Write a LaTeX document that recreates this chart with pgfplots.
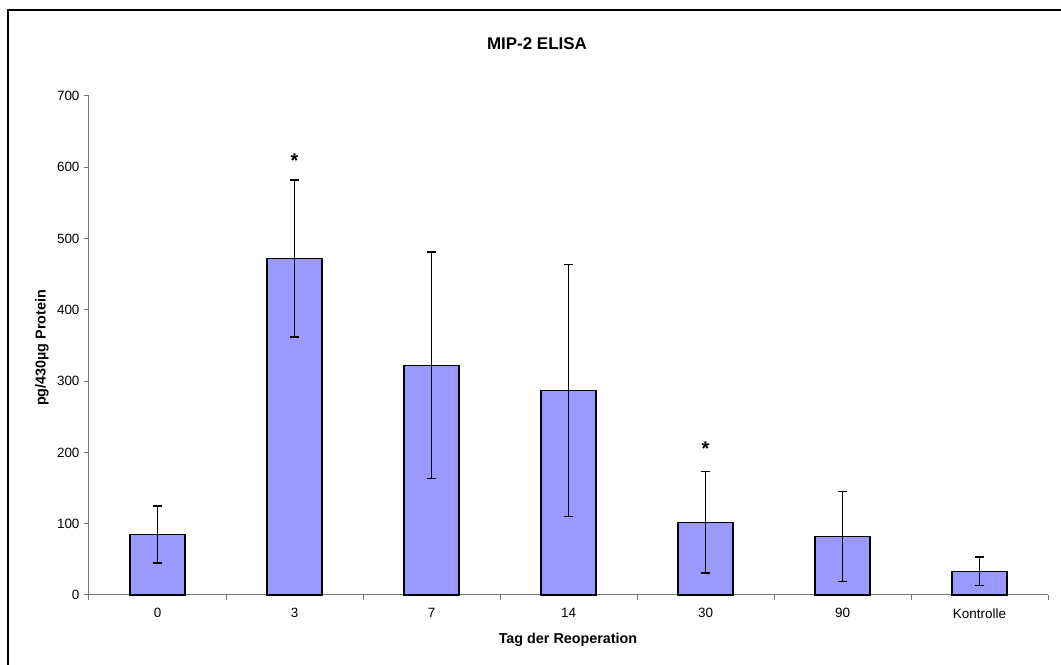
\documentclass[border=0pt]{standalone}
\usepackage{fontspec}
\setmainfont{Liberation Sans}
\usepackage{pgfplots}
\pgfplotsset{compat=1.18}
\definecolor{barfill}{RGB}{153,153,255}
\definecolor{axgray}{RGB}{120,120,120}
\begin{document}
\begin{tikzpicture}[x=1bp,y=1bp]
\useasboundingbox (-89,-70) rectangle (972,595);
\draw[line width=2bp,black] (-81,-70) -- (-81,585) -- (972,585);
\begin{axis}[
  at={(0,0)}, anchor=south west,
  scale only axis, width=959bp, height=499bp,
  xmin=-0.5, xmax=6.5, ymin=0, ymax=700,
  axis x line*=bottom, axis y line*=left,
  axis line style={axgray, line width=1bp},
  xtick={0,...,6},
  xticklabels={0,3,7,14,30,90,Kontrolle},
  minor xtick={-0.5,0.5,...,6.5},
  ytick={0,100,...,700},
  tick align=outside,
  major tick length=5bp, minor tick length=5bp,
  x tick style={draw=none},
  minor x tick style={draw=axgray, line width=1bp},
  y tick style={axgray, line width=1bp},
  /pgf/number format/assume math mode=true,
  ticklabel style={font=\fontsize{13.5}{16}\selectfont, black},
  xticklabel style={yshift=-5bp},
  yticklabel style={xshift=-1bp},
  clip=false,
]
\addplot[ybar, bar width=55bp, fill=barfill, draw=black, line width=1.2bp,
  error bars/.cd, y dir=both, y explicit,
  error bar style={black, line width=1.3bp},
  error mark options={rotate=90, mark size=4.5bp, line width=1.3bp}]
  table[x=x, y=y, y error=e] {
  x y e
  0 85 40
  1 472 110
  2 322 159
  3 287 177
  4 102 71
  5 82 63
  6 33.5 20
  };
\node[anchor=base, yshift=-11.7bp, font=\fontsize{20}{24}\selectfont\bfseries] at (axis cs:1,616) {*};
\node[anchor=base, yshift=-11.7bp, font=\fontsize{20}{24}\selectfont\bfseries] at (axis cs:4,212) {*};
\end{axis}
\node[font=\fontsize{17}{20}\selectfont\bfseries] at (448,551.5) {MIP-2 ELISA};
\node[font=\fontsize{14.4}{17}\selectfont\bfseries, rotate=90] at (-47,247) {pg/430µg Protein};
\node[font=\fontsize{14.4}{17}\selectfont\bfseries] at (479,-45) {Tag der Reoperation};
\end{tikzpicture}
\end{document}
